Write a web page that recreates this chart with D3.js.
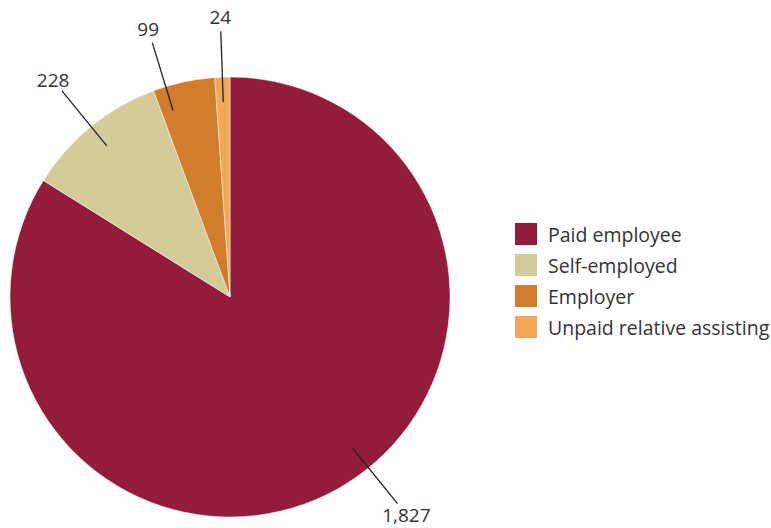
<!DOCTYPE html>
<html>
<head>
<meta charset="utf-8">
<script src="https://cdn.jsdelivr.net/npm/d3@7/dist/d3.min.js"></script>
<style>
  html, body { margin: 0; padding: 0; background: #fff; }
  svg { display: block; font-family: "Open Sans", "Noto Sans", sans-serif; }
</style>
</head>
<body>
<svg id="chart" width="771" height="528"></svg>
<script>
// Employment status breakdown
const categories = ["Paid employee", "Self-employed", "Employer", "Unpaid relative assisting"];
const values = [1827, 228, 99, 24];
const colors = ["#931b3b", "#d3cc98", "#d27d2b", "#f3a857"];

const width = 771, height = 528;
const svg = d3.select("#chart");
const cx = 230, cy = 297, radius = 220;

const pie = d3.pie().sort(null).value(d => d.value);
const data = categories.map((c, i) => ({ name: c, value: values[i], color: colors[i] }));
const arcs = pie(data);

const arc = d3.arc().innerRadius(0).outerRadius(radius);

const g = svg.append("g").attr("transform", `translate(${cx},${cy})`);

g.selectAll("path.slice")
  .data(arcs)
  .enter().append("path")
  .attr("class", "slice")
  .attr("d", arc)
  .attr("fill", d => d.data.color)
  .attr("stroke", "#fff")
  .attr("stroke-width", 0.5);

// label placement: start at each slice's mid-angle, keep labels inside
// the canvas and keep neighbouring labels a minimum angle apart
const labelR = 280, lineR0 = 195, lineR1 = 266;
const fontPx = 19;
const minGap = 15 * Math.PI / 180;
const polar = (a, r) => [Math.sin(a) * r, -Math.cos(a) * r];

const labels = arcs.map(d => ({ d, angle: (d.startAngle + d.endAngle) / 2 }));

labels.forEach(l => {
  const maxDy = height - cy - fontPx / 2 - 4;
  const y = -Math.cos(l.angle) * labelR;
  if (y > maxDy) {
    const a = Math.acos(-maxDy / labelR);
    l.angle = Math.sin(l.angle) >= 0 ? a : 2 * Math.PI - a;
  }
});

// walk backwards from the last slice so small slices near the top spread out
for (let i = labels.length - 2; i >= 1; i--) {
  if (labels[i + 1].angle - labels[i].angle < minGap) {
    labels[i].angle = labels[i + 1].angle - minGap;
  }
}

const fmt = d3.format(",");

g.selectAll("line.leader")
  .data(labels)
  .enter().append("line")
  .attr("class", "leader")
  .attr("x1", l => polar(l.angle, lineR0)[0])
  .attr("y1", l => polar(l.angle, lineR0)[1])
  .attr("x2", l => polar(l.angle, lineR1)[0])
  .attr("y2", l => polar(l.angle, lineR1)[1])
  .attr("stroke", "#222")
  .attr("stroke-width", 1.3);

g.selectAll("text.value")
  .data(labels)
  .enter().append("text")
  .attr("class", "value")
  .attr("x", l => polar(l.angle, labelR)[0])
  .attr("y", l => polar(l.angle, labelR)[1])
  .attr("text-anchor", "middle")
  .attr("dominant-baseline", "central")
  .attr("font-size", fontPx)
  .attr("fill", "#333")
  .text(l => fmt(l.d.data.value));

// legend
const legend = svg.append("g").attr("transform", "translate(515,223)");
const rows = legend.selectAll("g.row")
  .data(data)
  .enter().append("g")
  .attr("class", "row")
  .attr("transform", (d, i) => `translate(0,${i * 31})`);

rows.append("rect")
  .attr("width", 22)
  .attr("height", 22)
  .attr("fill", d => d.color);

rows.append("text")
  .attr("x", 33)
  .attr("y", 11)
  .attr("dominant-baseline", "central")
  .attr("font-size", 19.5)
  .attr("fill", "#333")
  .text(d => d.name);
</script>
</body>
</html>
